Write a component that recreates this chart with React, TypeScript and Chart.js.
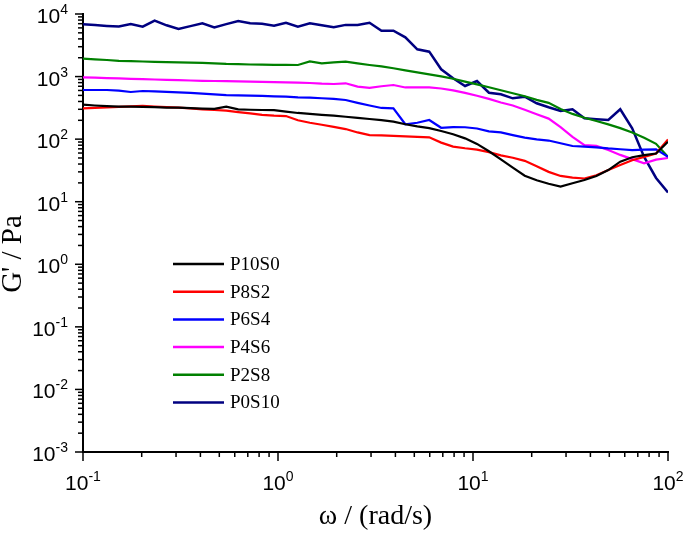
import { useEffect, useRef } from 'react'
import { Chart, registerables, Plugin } from 'chart.js'

Chart.register(...registerables)

// angular frequency, rad/s
const omega = [
  0.1, 0.1151, 0.1326, 0.1527, 0.1758, 0.2024, 0.233, 0.2683, 0.3089, 0.3556,
  0.4095, 0.4715, 0.5429, 0.6251, 0.7197, 0.8286, 0.9541, 1.0985, 1.2649, 1.4563,
  1.6768, 1.9307, 2.223, 2.5595, 2.9471, 3.3932, 3.9069, 4.4984, 5.1795, 5.9636,
  6.8665, 7.906, 9.1029, 10.481, 12.068, 13.895, 15.999, 18.421, 21.21, 24.421,
  28.118, 32.375, 37.276, 42.919, 49.417, 56.898, 65.512, 75.431, 86.851, 100,
]

// G' in Pa
const p10s0 = [
  355, 345, 338, 332, 330, 328, 325, 320, 318, 312,
  308, 305, 330, 300, 295, 292, 290, 275, 262, 254,
  245, 237, 228, 218, 210, 202, 190, 173, 160, 150,
  135, 120, 103, 84, 64, 47.5, 35, 26, 22, 19.4,
  17.4, 19.7, 22.2, 25.8, 32, 43.6, 51.4, 55.4, 59, 91,
]
const p8s2 = [
  311, 316, 322, 328, 334, 339, 332, 325, 318, 310,
  300, 292, 285, 270, 258, 245, 238, 234, 200, 183,
  170, 157, 145, 128, 116, 115, 113, 111, 109, 107,
  88, 76, 71.5, 68, 62, 55, 50.5, 45, 37, 30,
  25.8, 24.3, 23.5, 26.5, 32, 38.5, 46, 52, 59, 99,
]
const p6s4 = [
  610, 610, 610, 595, 567, 588, 580, 570, 560, 550,
  535, 520, 505, 500, 495, 490, 483, 478, 466, 460,
  450, 440, 422, 380, 345, 315, 311, 173, 183, 202,
  152, 156, 155, 148, 133, 128, 116, 106, 99, 95,
  86, 77.7, 76, 74, 71, 69, 67, 68, 68.8, 52.4,
]
const p4s6 = [
  973, 960, 947, 934, 920, 910, 898, 885, 875, 865,
  855, 850, 845, 839, 830, 822, 815, 805, 798, 790,
  770, 761, 781, 690, 660, 700, 733, 670, 672, 673,
  645, 600, 548, 493, 440, 385, 345, 295, 250, 213,
  155, 109, 80, 78, 67, 56, 48, 41, 47, 50,
]
const p2s8 = [
  1930, 1880, 1840, 1780, 1760, 1740, 1720, 1700, 1690, 1670,
  1650, 1620, 1590, 1580, 1560, 1550, 1540, 1540, 1530, 1750,
  1630, 1690, 1730, 1620, 1530, 1455, 1358, 1259, 1167, 1084,
  1007, 922, 832, 750, 675, 604, 541, 484, 425, 380,
  304, 253, 220, 195, 172, 150, 128, 105, 84, 52,
]
const p0s10 = [
  6840, 6650, 6450, 6300, 6920, 6270, 7820, 6600, 5750, 6400,
  7100, 6120, 6900, 7700, 7100, 7000, 6500, 7260, 6270, 7100,
  6600, 6120, 6700, 6700, 7260, 5410, 5410, 4240, 2730, 2500,
  1307, 938, 707, 849, 552, 521, 449, 477, 374, 323,
  282, 300, 215, 208, 202, 300, 149, 52, 24, 14,
]

const seriesNames = ['P10S0', 'P8S2', 'P6S4', 'P4S6', 'P2S8', 'P0S10']
const seriesColors = ['#000000', '#ff0000', '#0000ff', '#ff00ff', '#008000', '#000080']
const seriesValues = [p10s0, p8s2, p6s4, p4s6, p2s8, p0s10]

// tick label exponents
const xDecades = [-1, 0, 1, 2]
const yDecades = [-3, -2, -1, 0, 1, 2, 3, 4]

const xTitle = 'ω / (rad/s)'
const yTitle = "G' / Pa"

const SANS = '"Liberation Sans", Arial, sans-serif'
const SERIF = '"Liberation Serif", "Times New Roman", serif'

// log axes with minor ticks, 10^n labels and axis titles
const logAxes: Plugin = {
  id: 'logAxes',
  afterDraw(chart) {
    const ctx = chart.ctx
    const xs = chart.scales.x
    const ys = chart.scales.y
    const { left, right, bottom } = chart.chartArea
    ctx.save()
    ctx.strokeStyle = '#000'
    ctx.fillStyle = '#000'
    ctx.lineWidth = 1.5

    const tick = (x1: number, y1: number, x2: number, y2: number) => {
      ctx.beginPath()
      ctx.moveTo(x1, y1)
      ctx.lineTo(x2, y2)
      ctx.stroke()
    }
    const label = (exp: number) => {
      ctx.font = '21px ' + SANS
      const wBase = ctx.measureText('10').width
      ctx.font = '14px ' + SANS
      const wExp = ctx.measureText(String(exp)).width
      return { wBase, wExp, text: String(exp) }
    }

    ctx.textAlign = 'left'
    ctx.textBaseline = 'alphabetic'

    xDecades.forEach((d, k) => {
      for (let m = 1; m <= 9; m++) {
        if (k === xDecades.length - 1 && m > 1) break
        const px = xs.getPixelForValue(m * Math.pow(10, d))
        tick(px, bottom, px, bottom + (m === 1 ? 9 : 5))
      }
      const px = xs.getPixelForValue(Math.pow(10, d))
      const l = label(d)
      const x0 = px - (l.wBase + l.wExp) / 2
      ctx.font = '21px ' + SANS
      ctx.fillText('10', x0, bottom + 38)
      ctx.font = '14px ' + SANS
      ctx.fillText(l.text, x0 + l.wBase, bottom + 29)
    })

    yDecades.forEach((d, k) => {
      for (let m = 1; m <= 9; m++) {
        if (k === yDecades.length - 1 && m > 1) break
        const py = ys.getPixelForValue(m * Math.pow(10, d))
        tick(left, py, left - (m === 1 ? 8 : 5), py)
      }
      const py = ys.getPixelForValue(Math.pow(10, d))
      const l = label(d)
      const x0 = left - 15 - (l.wBase + l.wExp)
      ctx.font = '21px ' + SANS
      ctx.fillText('10', x0, py + 9)
      ctx.font = '14px ' + SANS
      ctx.fillText(l.text, x0 + l.wBase, py)
    })

    // axis titles
    ctx.font = '28px ' + SERIF
    ctx.textAlign = 'center'
    ctx.fillText(xTitle, (left + right) / 2, bottom + 72)
    ctx.translate(21, 254)
    ctx.rotate(-Math.PI / 2)
    ctx.font = '29px ' + SERIF
    ctx.fillText(yTitle, 0, 0)
    ctx.restore()
  },
}

// legend drawn inside the plot area
const innerLegend: Plugin = {
  id: 'innerLegend',
  afterDatasetsDraw(chart) {
    const ctx = chart.ctx
    const { left, top } = chart.chartArea
    ctx.save()
    chart.data.datasets.forEach((ds, i) => {
      const y = top + 250 + i * 27.7
      ctx.strokeStyle = ds.borderColor as string
      ctx.lineWidth = 2.5
      ctx.beginPath()
      ctx.moveTo(left + 90, y)
      ctx.lineTo(left + 141, y)
      ctx.stroke()
      ctx.fillStyle = '#000'
      ctx.font = '19px ' + SERIF
      ctx.textAlign = 'left'
      ctx.textBaseline = 'middle'
      ctx.fillText(ds.label as string, left + 147, y + 1)
    })
    ctx.restore()
  },
}

export default function App() {
  const chartRef = useRef<HTMLCanvasElement>(null)
  const chartInstance = useRef<Chart | null>(null)

  useEffect(() => {
    document.body.style.margin = '0'
    if (!chartRef.current) return
    const ctx = chartRef.current.getContext('2d')
    if (!ctx) return
    if (chartInstance.current) chartInstance.current.destroy()

    chartInstance.current = new Chart(ctx, {
      type: 'line',
      data: {
        datasets: seriesValues.map((vals, i) => ({
          label: seriesNames[i],
          data: vals.map((v, j) => ({ x: omega[j], y: v })),
          borderColor: seriesColors[i],
          backgroundColor: seriesColors[i],
          borderWidth: i === 5 ? 2.5 : 2.2,
          pointRadius: 0,
          tension: 0,
          fill: false,
        })),
      },
      options: {
        responsive: false,
        animation: false,
        layout: { padding: { top: 14, right: 17, left: 0, bottom: 0 } },
        plugins: {
          legend: { display: false },
          tooltip: { enabled: false },
        },
        scales: {
          x: {
            type: 'logarithmic',
            min: 0.1,
            max: 100,
            grid: { display: false },
            border: { display: true, color: '#000', width: 2 },
            ticks: { display: false },
            afterFit: (scale) => {
              scale.height = 81
            },
          },
          y: {
            type: 'logarithmic',
            min: 0.001,
            max: 10000,
            grid: { display: false },
            border: { display: true, color: '#000', width: 2 },
            ticks: { display: false },
            afterFit: (scale) => {
              scale.width = 83
            },
          },
        },
      },
      plugins: [logAxes, innerLegend],
    })

    return () => {
      if (chartInstance.current) {
        chartInstance.current.destroy()
        chartInstance.current = null
      }
    }
  }, [])

  return (
    <div style={{ width: 685, height: 533 }}>
      <canvas ref={chartRef} width={685} height={533}></canvas>
    </div>
  )
}
